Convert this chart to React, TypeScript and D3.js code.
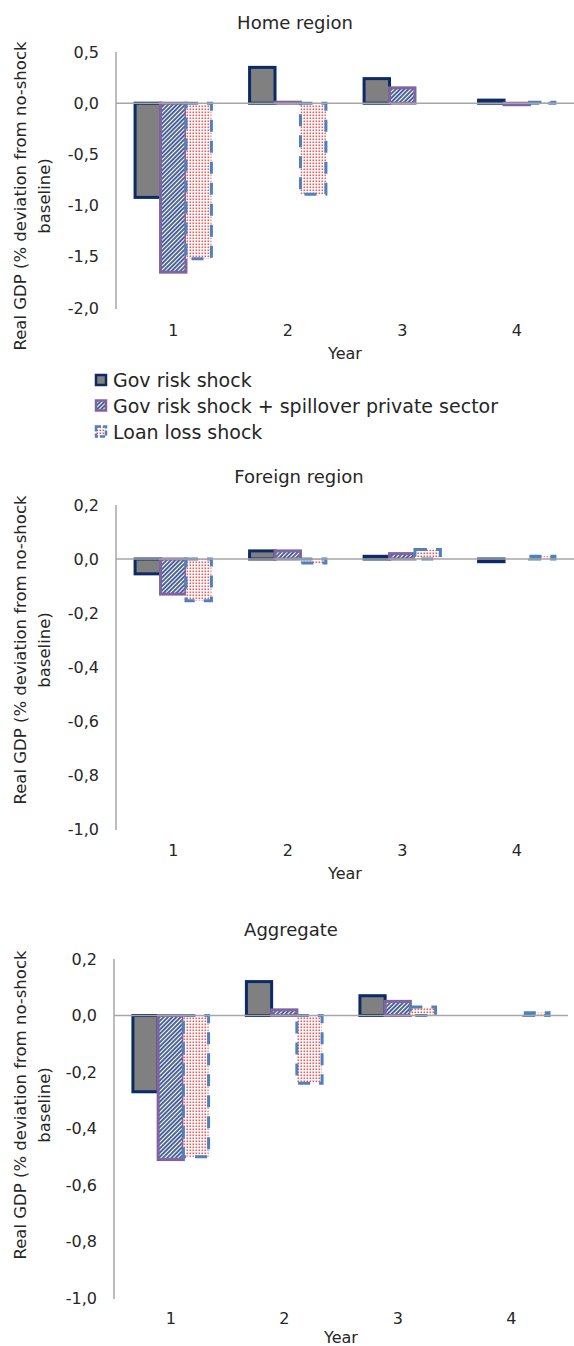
import React from "react";
import * as d3 from "d3";

const years = ["1", "2", "3", "4"];
const seriesNames = [
  "Gov risk shock",
  "Gov risk shock + spillover private sector",
  "Loan loss shock",
];

const homeGov = [-0.92, 0.35, 0.24, 0.03];
const homeSpill = [-1.65, 0.01, 0.15, -0.015];
const homeLoan = [-1.52, -0.89, 0.0, 0.01];

const foreignGov = [-0.055, 0.03, 0.01, -0.01];
const foreignSpill = [-0.13, 0.03, 0.02, 0.0];
const foreignLoan = [-0.155, -0.015, 0.035, 0.01];

const aggGov = [-0.27, 0.12, 0.07, 0.0];
const aggSpill = [-0.51, 0.02, 0.05, 0.0];
const aggLoan = [-0.5, -0.24, 0.03, 0.01];

const homeTicks = [-2, -1.5, -1, -0.5, 0, 0.5];
const smallTicks = [-1, -0.8, -0.6, -0.4, -0.2, 0, 0.2];

const yLabel1 = "Real GDP (% deviation from no-shock";
const yLabel2 = "baseline)";
const xLabel = "Year";

const FONT = "'DejaVu Sans', Verdana, sans-serif";
const TEXT = "#262626";
const AXIS = "#a6a6a6";

const locale = d3.formatLocale({
  decimal: ",",
  thousands: ".",
  grouping: [3],
  currency: ["", ""],
  minus: "-",
});
const fmt = locale.format(".1f");

const seriesStyle = [
  { fill: "#808080", stroke: "#0b2a66", dash: undefined as string | undefined },
  { fill: "url(#hatch)", stroke: "#8064a2", dash: undefined as string | undefined },
  { fill: "url(#dots)", stroke: "#4f81bd", dash: "12 9" },
];

type PanelProps = {
  title: string;
  titleX: number;
  titleY: number;
  series: number[][];
  ticks: number[];
  domain: [number, number];
  yTop: number;
  yBottom: number;
  xLeft: number;
  xRight: number;
  catY: number;
  yearY: number;
  labelCY: number;
};

function Panel(p: PanelProps) {
  const y = d3.scaleLinear().domain(p.domain).range([p.yBottom, p.yTop]);
  const x0 = d3
    .scaleBand<string>()
    .domain(years)
    .range([p.xLeft, p.xRight])
    .paddingInner(1 / 3)
    .paddingOuter(1 / 6);
  const x1 = d3
    .scaleBand<number>()
    .domain(d3.range(seriesNames.length))
    .range([0, x0.bandwidth()])
    .padding(0);
  const zero = y(0);
  return (
    <g>
      <text
        x={p.titleX}
        y={p.titleY}
        textAnchor="middle"
        dominantBaseline="central"
        fontFamily={FONT}
        fontSize={18}
        fill={TEXT}
      >
        {p.title}
      </text>
      <line x1={p.xLeft} x2={p.xLeft} y1={p.yTop} y2={p.yBottom + 1} stroke={AXIS} strokeWidth={1.5} />
      {p.ticks.map((t) => (
        <text
          key={t}
          x={p.xLeft - 17}
          y={y(t)}
          textAnchor="end"
          dominantBaseline="central"
          fontFamily={FONT}
          fontSize={16}
          fill={TEXT}
        >
          {fmt(t)}
        </text>
      ))}
      {p.series.map((vals, si) =>
        vals.map((v, i) => {
          const st = seriesStyle[si];
          const bx = (x0(years[i]) as number) + (x1(si) as number);
          const top = Math.min(y(v), zero);
          const h = Math.abs(y(v) - zero);
          if (h < 0.01) return null;
          return (
            <rect
              key={si + "-" + i}
              x={bx}
              y={top}
              width={x1.bandwidth()}
              height={h}
              fill={st.fill}
              stroke={st.stroke}
              strokeWidth={3}
              strokeDasharray={st.dash}
            />
          );
        })
      )}
      <line x1={p.xLeft} x2={p.xRight} y1={zero} y2={zero} stroke={AXIS} strokeWidth={1.5} />
      {years.map((c) => (
        <text
          key={c}
          x={(x0(c) as number) + x0.bandwidth() / 2}
          y={p.catY}
          textAnchor="middle"
          dominantBaseline="central"
          fontFamily={FONT}
          fontSize={16}
          fill={TEXT}
        >
          {c}
        </text>
      ))}
      <text
        x={(p.xLeft + p.xRight) / 2}
        y={p.yearY}
        textAnchor="middle"
        dominantBaseline="central"
        fontFamily={FONT}
        fontSize={16}
        fill={TEXT}
      >
        {xLabel}
      </text>
      <g transform={`translate(20,${p.labelCY}) rotate(-90)`}>
        <text
          x={0}
          y={0}
          textAnchor="middle"
          dominantBaseline="central"
          fontFamily={FONT}
          fontSize={16.5}
          fill={TEXT}
        >
          {yLabel1}
        </text>
        <text
          x={0}
          y={24}
          textAnchor="middle"
          dominantBaseline="central"
          fontFamily={FONT}
          fontSize={16.5}
          fill={TEXT}
        >
          {yLabel2}
        </text>
      </g>
    </g>
  );
}

function Legend({ x, rows }: { x: number; rows: number[] }) {
  return (
    <g>
      {seriesNames.map((name, i) => {
        const st = seriesStyle[i];
        return (
          <g key={name}>
            <rect
              x={x + 2}
              y={rows[i] - 5}
              width={10}
              height={10}
              fill={st.fill}
              stroke={st.stroke}
              strokeWidth={2.5}
              strokeDasharray={st.dash ? "5 2" : undefined}
            />
            <text
              x={x + 19}
              y={rows[i]}
              dominantBaseline="central"
              fontFamily={FONT}
              fontSize={19}
              fill={TEXT}
            >
              {name}
            </text>
          </g>
        );
      })}
    </g>
  );
}

export default function App() {
  return (
    <svg
      width={574}
      height={1346}
      style={{ position: "absolute", left: 0, top: 0, background: "#fff" }}
    >
      <defs>
        <pattern id="hatch" patternUnits="userSpaceOnUse" width={3} height={3} patternTransform="rotate(45)">
          <rect width={3} height={3} fill="#ffffff" />
          <line x1={1} y1={-1} x2={1} y2={4} stroke="#1f3d7a" strokeWidth={1.6} />
        </pattern>
        <pattern id="dots" patternUnits="userSpaceOnUse" width={3} height={3}>
          <rect width={3} height={3} fill="#ffffff" />
          <rect x={0.5} y={0.5} width={1.6} height={1.6} fill="#e35d5d" />
        </pattern>
      </defs>
      <rect width={574} height={1346} fill="#ffffff" />
      <Panel
        title="Home region"
        titleX={295}
        titleY={22}
        series={[homeGov, homeSpill, homeLoan]}
        ticks={homeTicks}
        domain={[-2, 0.5]}
        yTop={52}
        yBottom={308}
        xLeft={116}
        xRight={574}
        catY={330}
        yearY={353}
        labelCY={196}
      />
      <Legend x={94} rows={[380, 405.5, 431.5]} />
      <Panel
        title="Foreign region"
        titleX={299}
        titleY={476}
        series={[foreignGov, foreignSpill, foreignLoan]}
        ticks={smallTicks}
        domain={[-1, 0.2]}
        yTop={505}
        yBottom={829}
        xLeft={116}
        xRight={574}
        catY={850}
        yearY={873}
        labelCY={650}
      />
      <Panel
        title="Aggregate"
        titleX={291}
        titleY={929}
        series={[aggGov, aggSpill, aggLoan]}
        ticks={smallTicks}
        domain={[-1, 0.2]}
        yTop={959}
        yBottom={1298}
        xLeft={114}
        xRight={568}
        catY={1318}
        yearY={1337}
        labelCY={1105}
      />
    </svg>
  );
}
